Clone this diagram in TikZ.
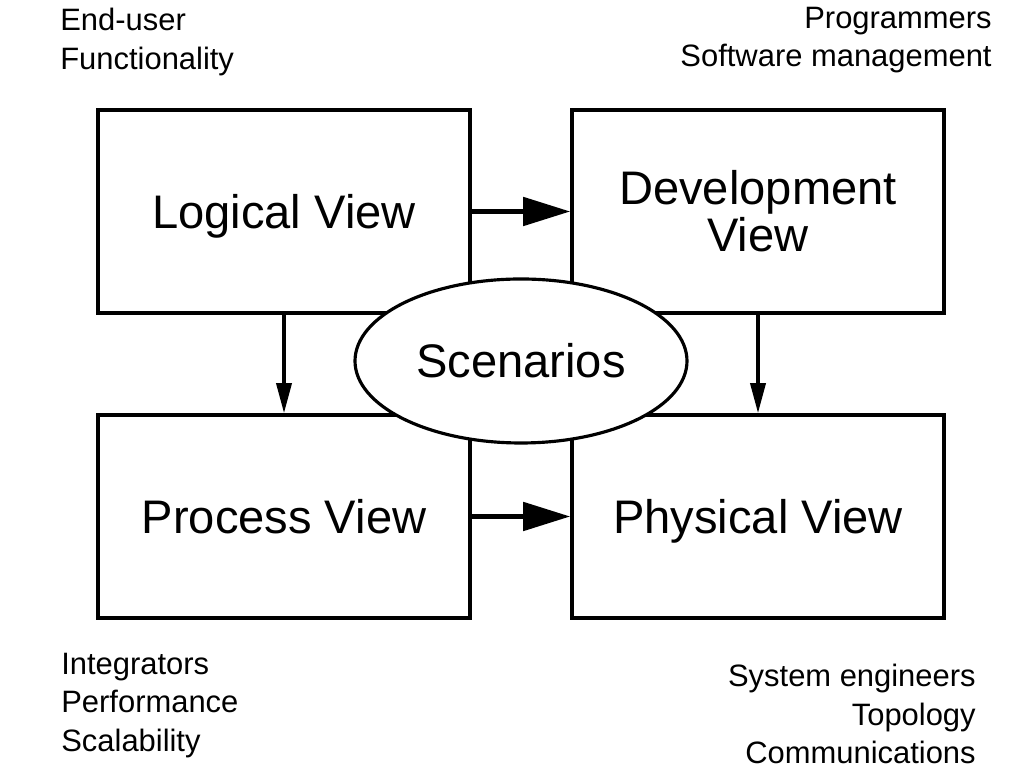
\documentclass[tikz,border=0pt]{standalone}
\usepackage{fontspec}
\setmainfont{Liberation Sans}
\usetikzlibrary{calc,shapes.geometric,arrows.meta}

\begin{document}
\begin{tikzpicture}[
    viewbox/.style={shape=rectangle,draw=black,line width=2pt,minimum width=7.44cm,minimum height=4.06cm,align=center,font=\fontsize{26.8}{26.8}\selectfont},
    oneline/.style={text height=19.2pt,text depth=0pt},
    note/.style={inner sep=0pt,font=\fontsize{17.6}{21.8}\selectfont},
    bigarrow/.style={line width=2.8pt,-{Triangle[length=0.94cm,width=0.56cm]}},
    smallarrow/.style={line width=2pt,-{Triangle[length=0.6cm,width=0.3cm]}}]
		\useasboundingbox (0,0) rectangle (20.48,15.36);
		\node[viewbox,oneline] (logical) at (5.68,11.13) {Logical View};
		\node[viewbox] (development) at (15.16,11.13) {Development\\View};
		\node[viewbox,oneline] (process) at (5.68,5.03) {Process View};
		\node[viewbox,oneline] (physical) at (15.16,5.03) {Physical View};
        \draw [bigarrow] (logical.east) -- (development.west);
        \draw [bigarrow] (process.east) -- (physical.west);
        \draw [smallarrow] (logical.south) -- (process.north);
        \draw [smallarrow] (development.south) -- (physical.north);
		\node[shape=ellipse,draw=black,line width=1.8pt,fill=white,inner sep=0pt,minimum width=6.64cm,minimum height=3.28cm,text height=19.2pt,text depth=0pt,font=\fontsize{26.8}{26.8}\selectfont] (scenarios) at (10.42,8.14) {Scenarios};
        \node[note,anchor=north west,align=left] (enduser) at (1.2,15.2) {End-user\\Functionality};
        \node[note,anchor=north east,align=right] (programmers) at (19.84,15.22) {Programmers\\Software management};
        \node[note,anchor=north west,align=left] (integrators) at (1.22,2.3) {Integrators\\Performance\\Scalability};
        \node[note,anchor=north east,align=right] (engineers) at (19.52,2.08) {System engineers\\Topology\\Communications};
	
		\end{tikzpicture}
\end{document}
